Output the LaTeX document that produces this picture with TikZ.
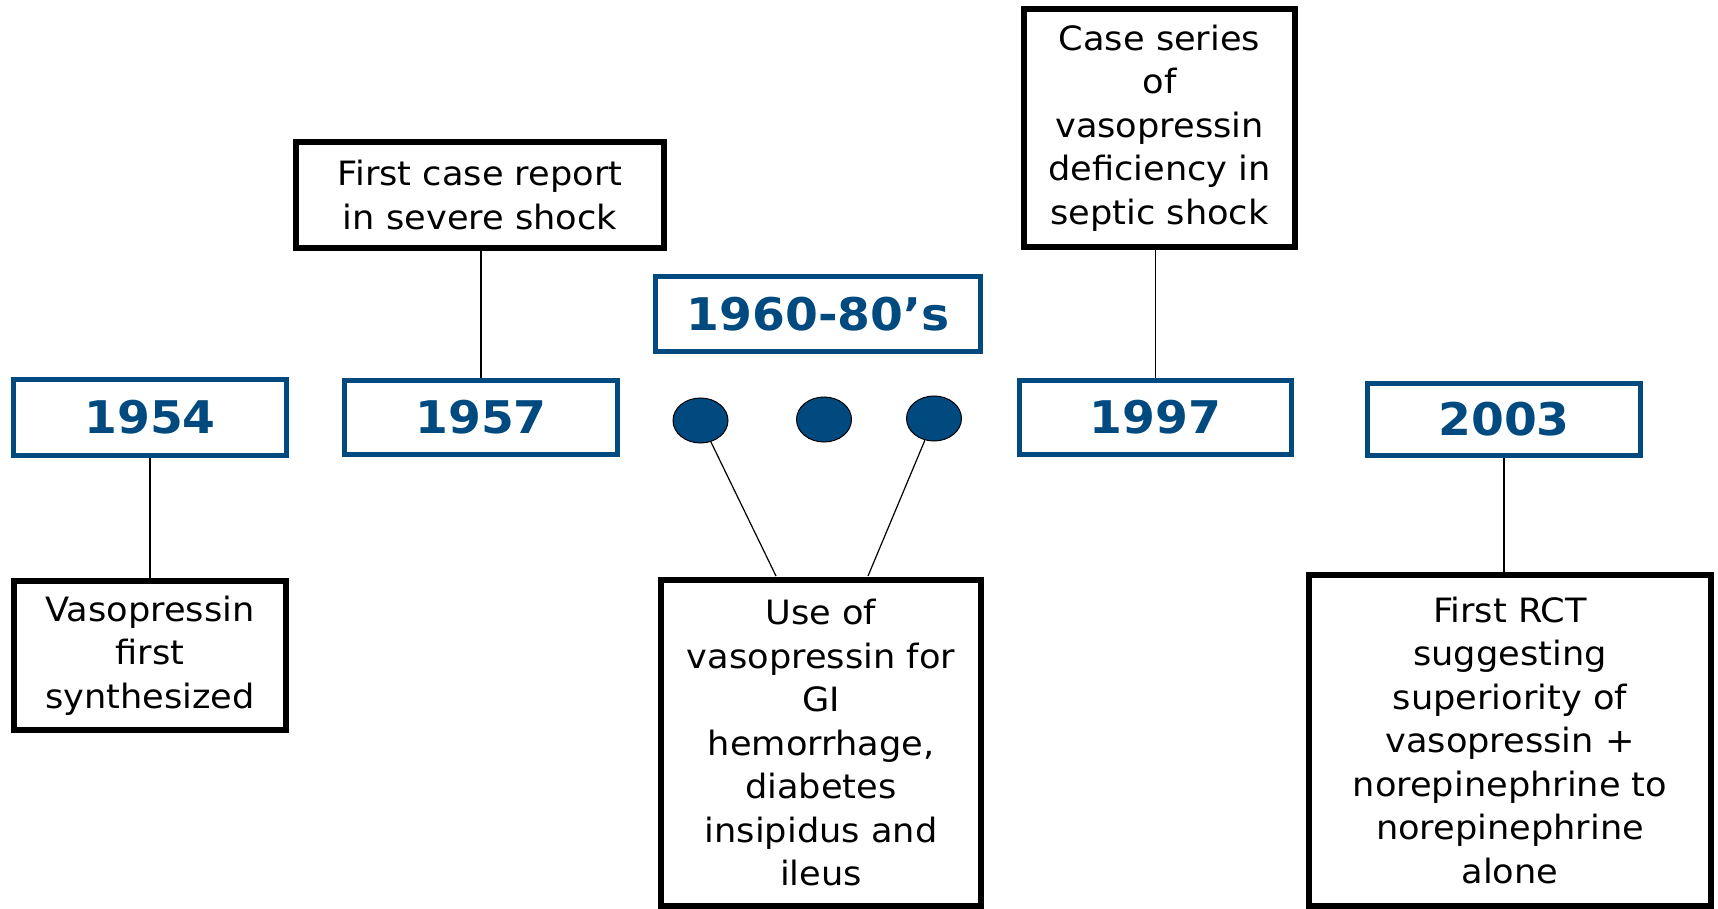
\documentclass[tikz,border=0pt]{standalone}
\usepackage{fontspec}
\usetikzlibrary{shapes.geometric}
\newfontfamily\vfont[FakeStretch=1.05]{DejaVu Sans}
\newcommand\yrfont{\vfont\bfseries\fontsize{45}{54}\selectfont}
\newcommand\evfont{\vfont\fontsize{33.5}{43.5}\selectfont}
\definecolor{vblue}{RGB}{0,74,128}
\tikzset{
  yearbox/.style={draw=vblue, line width=5pt, text=vblue, font=\yrfont, inner sep=0pt, align=center},
  eventbox/.style={draw=black, line width=6pt, font=\evfont, inner sep=0pt, align=center},
  dotnode/.style={ellipse, draw=black, line width=1pt, fill=vblue, minimum width=55pt, minimum height=45pt, inner sep=0pt},
  link/.style={draw=black, line width=1.2pt}
}
\begin{document}
\begin{tikzpicture}[x=1pt,y=-1pt]
\useasboundingbox (0,0) rectangle (1718,909);
% year boxes
\node[yearbox, minimum width=273pt, minimum height=76pt] (y1954) at (150,417.5) {1954};
\node[yearbox, minimum width=273pt, minimum height=74pt] (y1957) at (481,417.5) {1957};
\node[yearbox, minimum width=325pt, minimum height=75pt] (y6080) at (818,314) {1960-80’s};
\node[yearbox, minimum width=272pt, minimum height=74pt] (y1997) at (1155.5,417.5) {1997};
\node[yearbox, minimum width=273pt, minimum height=72pt] (y2003) at (1504,419.5) {2003};
% dots
\node[dotnode] (d1) at (700.5,420.5) {};
\node[dotnode] (d2) at (824,419.5) {};
\node[dotnode] (d3) at (934,418.5) {};
% event boxes
\node[eventbox, minimum width=272pt, minimum height=149pt] (e1954) at (150,655.5) {Vasopressin\\first\\synthesized};
\node[eventbox, minimum width=368pt, minimum height=106pt] (e1957) at (480,195) {First case report\\in severe shock};
\node[eventbox, minimum width=320pt, minimum height=326pt] (e6080) at (821,743) {Use of\\vasopressin for\\GI\\hemorrhage,\\diabetes\\insipidus and\\ileus};
\node[eventbox, minimum width=271pt, minimum height=238pt] (e1997) at (1159.5,128) {Case series\\of\\vasopressin\\deficiency in\\septic shock};
\node[eventbox, minimum width=402pt, minimum height=331pt] (e2003) at (1510,740.5) {First RCT\\suggesting\\superiority of\\vasopressin +\\norepinephrine to\\norepinephrine\\alone};
% connectors
\coordinate (a1) at (776,576);
\coordinate (a3) at (868,576);
\draw[link] (y1954.south) -- (e1954.north);
\draw[link] (e1957.south -| y1957.north) -- (y1957.north);
\draw[link] (e1997.south -| y1997.north) -- (y1997.north);
\draw[link] (y2003.south) -- (y2003.south |- e2003.north);
\draw[link] (d1) -- (a1);
\draw[link] (d3) -- (a3);
\end{tikzpicture}
\end{document}
